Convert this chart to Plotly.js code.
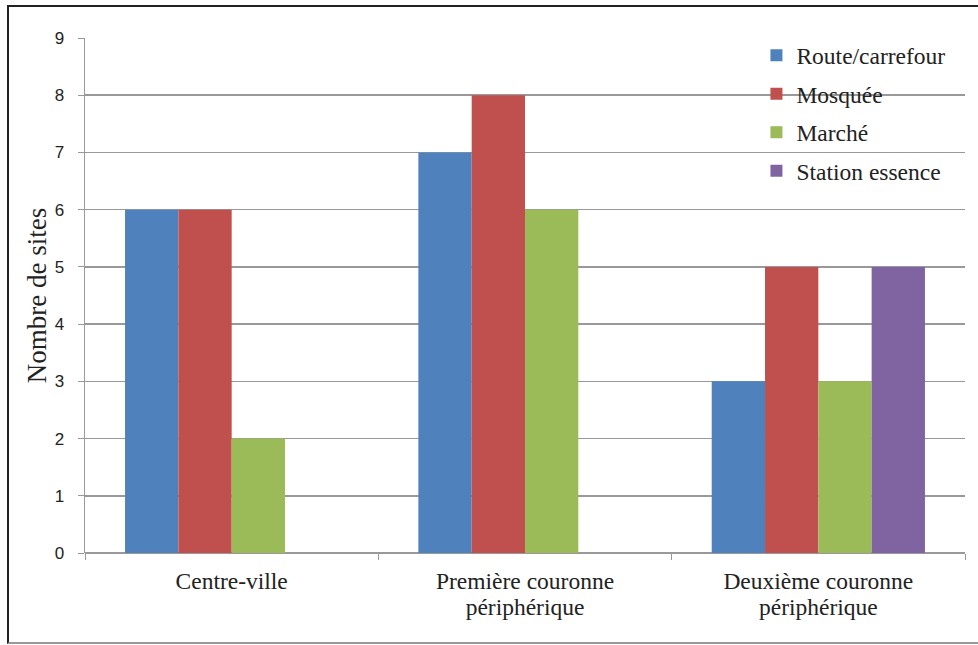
<!DOCTYPE html>
<html>
<head>
<meta charset="utf-8">
<script src="https://cdn.plot.ly/plotly-3.0.1.min.js"></script>
<style>
  html, body { margin: 0; padding: 0; background: #fff; overflow: hidden; }
  #wrap { position: absolute; left: 0; top: 0; width: 978px; height: 645px; overflow: hidden; }
  #frame { position: absolute; left: 7px; top: 5px; width: 1000px; height: 639px; border-left: 2px solid #222; border-top: 2px solid #222; border-bottom: 2px solid #999; box-sizing: border-box; pointer-events: none; }
  #chart { position: absolute; left: 0; top: 0; width: 978px; height: 645px; }
</style>
</head>
<body>
<div id="wrap">
  <div id="chart"></div>
  <div id="frame"></div>
</div>
<script>
const categories = ["Centre-ville", "Première couronne<br>périphérique", "Deuxième couronne<br>périphérique"];
const seriesNames = ["Route/carrefour", "Mosquée", "Marché", "Station essence"];
const routeCarrefour = [6, 7, 3];
const mosquee = [6, 8, 5];
const marche = [2, 6, 3];
const stationEssence = [0, 0, 5];
const seriesColors = ["#4F81BD", "#C0504D", "#9BBB59", "#8064A2"];
const yTicks = [0, 1, 2, 3, 4, 5, 6, 7, 8, 9];

const allValues = [routeCarrefour, mosquee, marche, stationEssence];
const traces = allValues.map((vals, i) => ({
  type: "bar",
  name: seriesNames[i],
  x: categories,
  y: vals,
  marker: { color: seriesColors[i], line: { width: 0 } },
  legendgroup: "g" + i,
  hoverinfo: "x+y+name"
}));

// bigger glyphs with a tighter line spacing for the category labels
const catLabels = categories.map(c => c.split("<br>").map(l => '<span style="font-size:23.5px">' + l + '</span>').join("<br>"));

const serif = "Liberation Serif";
const sans = "Liberation Sans";
const layout = {
  width: 978,
  height: 645,
  font: { family: serif, size: 20, color: "#222" },
  paper_bgcolor: "rgba(0,0,0,0)",
  plot_bgcolor: "#fff",
  margin: { l: 85, r: 13, t: 38, b: 92 },
  barmode: "group",
  bargap: 0.273,
  bargroupgap: 0,
  showlegend: true,
  legend: {
    x: 0.763, xanchor: "left",
    y: 1.009, yanchor: "top",
    font: { family: serif, size: 23.5, color: "#222" },
    traceorder: "grouped",
    tracegroupgap: 5,
    bgcolor: "rgba(255,255,255,0)"
  },
  xaxis: {
    type: "category",
    tickmode: "array",
    tickvals: categories,
    ticktext: catLabels,
    tickfont: { family: serif, size: 20.5, color: "#222" },
    ticks: "outside",
    tickson: "boundaries",
    ticklen: 6,
    tickcolor: "#999",
    ticklabelstandoff: 14,
    showline: false,
    showgrid: false,
    zeroline: false
  },
  yaxis: {
    range: [0, 9],
    tickvals: yTicks,
    ticktext: yTicks.map(String),
    tickfont: { family: sans, size: 17, color: "#222" },
    ticks: "outside",
    ticklen: 6,
    tickcolor: "#999",
    ticklabelstandoff: 10,
    showgrid: true,
    gridcolor: "#999",
    gridwidth: 1.5,
    showline: true,
    linecolor: "#999",
    linewidth: 1.5,
    zeroline: true,
    zerolinecolor: "#999",
    zerolinewidth: 1.5,
    title: { text: "Nombre de sites", font: { family: serif, size: 27, color: "#222" }, standoff: 0 }
  }
};

Plotly.newPlot("chart", traces, layout, { displayModeBar: false, staticPlot: true });
</script>
</body>
</html>
